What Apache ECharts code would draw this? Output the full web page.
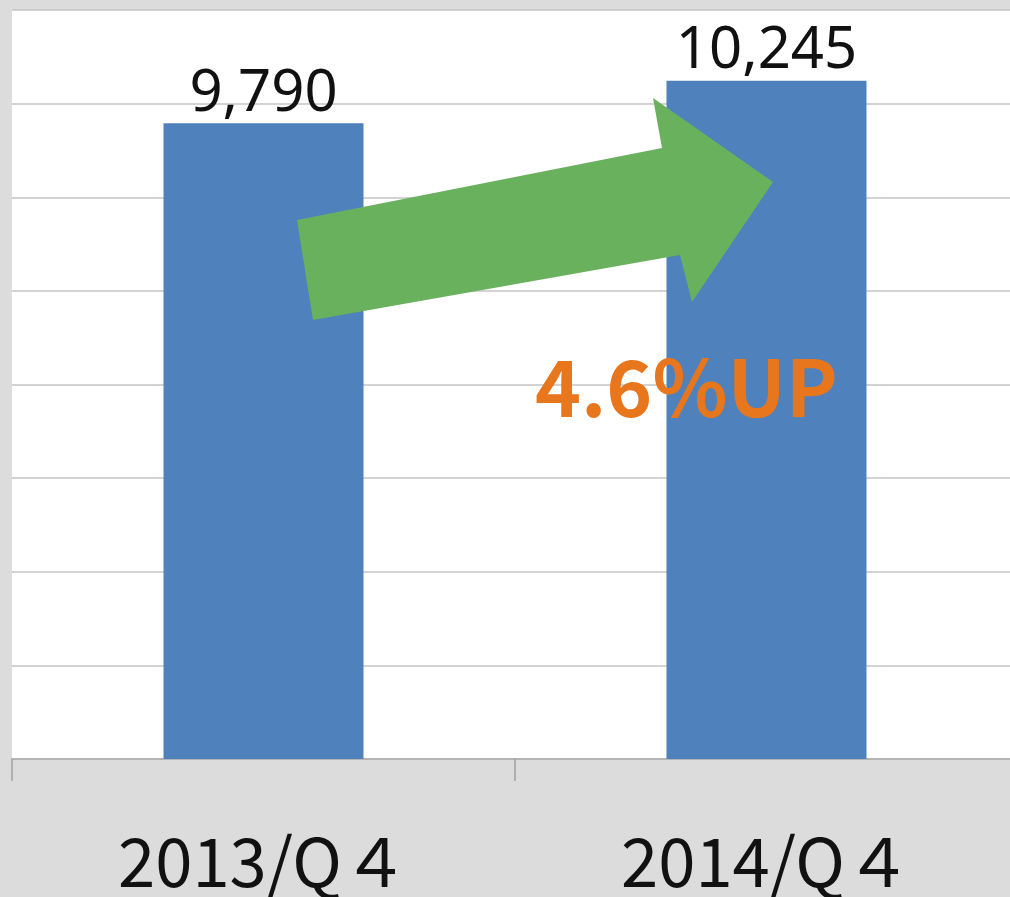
<!DOCTYPE html>
<html>
<head>
<meta charset="utf-8">
<title>2013/Q4 vs 2014/Q4</title>
<script src="https://cdn.jsdelivr.net/npm/echarts@6/dist/echarts.min.js"></script>
<style>
  html, body { margin: 0; padding: 0; background: #dcdcdc; overflow: hidden; }
  /* the chart is cropped on the right, like the original picture */
  #chart { width: 1018px; height: 897px; }
</style>
</head>
<body>
<div id="chart"></div>
<script>
// データ
var quarters = ["2013/Q４", "2014/Q４"];
var values = [9790, 10245];

var growth = ((values[1] / values[0] - 1) * 100).toFixed(1) + "%UP";

var myChart = echarts.init(document.getElementById("chart"));

var FONT = "'Noto Sans CJK JP', 'Noto Sans', sans-serif";

var option = {
  backgroundColor: "transparent",
  animation: false,
  grid: {
    left: 12,
    top: 10,
    right: 0,
    bottom: 138,
    show: true,
    backgroundColor: "#ffffff",
    borderWidth: 0,
  },
  xAxis: {
    type: "category",
    data: quarters,
    axisLine: { lineStyle: { color: "#b4b4b4", width: 2 } },
    axisTick: { show: true, length: 22, lineStyle: { color: "#a0a0a0", width: 1.5 } },
    axisLabel: {
      color: "#111",
      fontSize: 67,
      fontFamily: FONT,
      margin: 69,
    },
  },
  yAxis: {
    type: "value",
    min: 3000,
    max: 11000,
    interval: 1000,
    axisLabel: { show: false },
    axisLine: { show: false },
    axisTick: { show: false },
    splitLine: { lineStyle: { color: "#c4c4c4", width: 1.5 } },
  },
  series: [
    {
      type: "bar",
      data: values,
      barWidth: 200,
      itemStyle: { color: "#4f81bd" },
      label: {
        show: true,
        position: "top",
        distance: 0,
        color: "#111",
        fontSize: 58,
        fontFamily: "'Noto Sans', sans-serif",
        formatter: function (p) {
          return p.value.toLocaleString("en-US");
        },
      },
    },
  ],
  graphic: [
    {
      type: "polygon",
      z: 100,
      shape: {
        points: [
          [297, 220], [662, 148], [653, 98], [773, 182],
          [692, 302], [680, 255], [313, 320],
        ],
      },
      style: { fill: "#6ab15e" },
    },
    {
      type: "text",
      z: 101,
      left: 535,
      top: 348,
      style: {
        text: growth,
        fill: "#e8761c",
        font: "bold 78px " + FONT,
      },
    },
  ],
};

myChart.setOption(option);
</script>
</body>
</html>
